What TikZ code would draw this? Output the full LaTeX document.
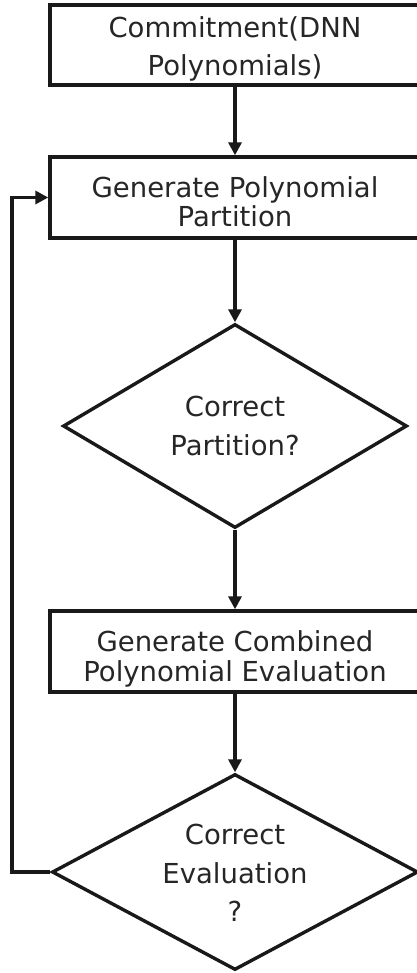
\documentclass[tikz,border=0pt]{standalone}
\usepackage{fontspec}
\setmainfont{DejaVu Sans}
\usetikzlibrary{shapes.geometric,arrows.meta}
\begin{document}
\begin{tikzpicture}[x=1pt,y=-1pt,
  line width=3.4pt,
  box/.style={draw=black!90, rectangle, inner sep=0pt},
  decision/.style={draw=black!90, diamond, inner sep=0pt},
  lbl/.style={align=center, inner sep=0pt, text=black!85},
  flow/.style={draw=black!90, -{Triangle[length=13pt,width=13pt]}},
  tight/.style={font=\fontsize{27.5}{29.5}\selectfont},
  loose/.style={font=\fontsize{27.5}{38.5}\selectfont}]
  \useasboundingbox (0,0) rectangle (416,973);
  % shapes
  \node[box, minimum width=370pt, minimum height=80pt] (b1) at (235,45) {};
  \node[box, minimum width=370pt, minimum height=81pt] (b2) at (235,197.5) {};
  \node[decision, minimum width=344pt, minimum height=204pt] (d1) at (235,426) {};
  \node[box, minimum width=370pt, minimum height=81pt] (b3) at (235,651.5) {};
  \node[decision, minimum width=366pt, minimum height=196pt] (d2) at (235,872) {};
  % labels
  \node[lbl, loose] (t1) at (235,48.9) {Commitment(DNN\\Polynomials)};
  \node[lbl, tight] (t2) at (235,201.5) {Generate Polynomial\\Partition};
  \node[lbl, tight] (t3) at (235,658.9) {Generate Combined\\Polynomial Evaluation};
  \node[lbl, loose] (t4) at (235,426) {Correct\\Partition?};
  \node[lbl, loose] (t5) at (235,873) {Correct\\Evaluation\\?};
  % connectors
  \draw[flow] (b1) -- (b2);
  \draw[flow] (b2) -- (d1);
  \draw[flow] (d1) -- (b3);
  \draw[flow] (b3) -- (d2);
  \coordinate (loop) at (12,872);
  \draw[flow] (d2.west) -- (loop) |- (b2.west);
\end{tikzpicture}
\end{document}
